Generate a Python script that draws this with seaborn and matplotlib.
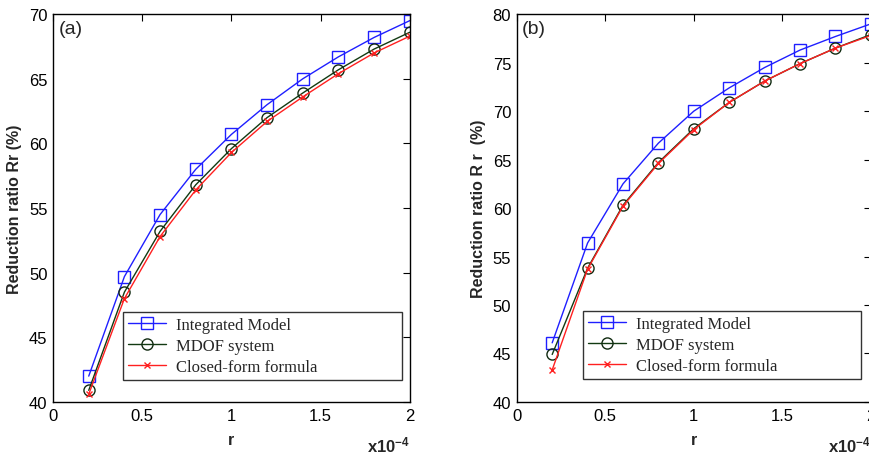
import matplotlib
matplotlib.use("Agg")
import matplotlib.pyplot as plt
import seaborn as sns
import pandas as pd

# r values in units of 1e-4
r_vals = [0.2, 0.4, 0.6, 0.8, 1.0, 1.2, 1.4, 1.6, 1.8, 2.0]

# Panel (a)
a_integrated = [42.0, 49.7, 54.5, 58.0, 60.7, 63.0, 65.0, 66.7, 68.2, 69.5]
a_mdof = [40.9, 48.5, 53.2, 56.8, 59.6, 62.0, 63.9, 65.7, 67.3, 68.6]
a_closed = [40.6, 48.0, 52.8, 56.4, 59.3, 61.7, 63.6, 65.4, 67.0, 68.3]

# Panel (b)
b_integrated = [46.1, 56.4, 62.5, 66.7, 70.0, 72.4, 74.5, 76.3, 77.7, 79.0]
b_mdof = [44.9, 53.8, 60.3, 64.7, 68.2, 70.9, 73.1, 74.9, 76.5, 77.9]
b_closed = [43.3, 53.7, 60.2, 64.6, 68.1, 70.9, 73.1, 74.9, 76.5, 77.8]

series_names = ["Integrated Model", "MDOF system", "Closed-form formula"]
x_ticks = [0, 0.5, 1, 1.5, 2]
x_tick_labels = ["0", "0.5", "1", "1.5", "2"]
a_yticks = [40, 45, 50, 55, 60, 65, 70]
b_yticks = [40, 45, 50, 55, 60, 65, 70, 75, 80]

sns.set_theme(style="white")
plt.rcParams["font.family"] = ["Liberation Sans", "DejaVu Sans"]

fig = plt.figure(figsize=(8.7, 4.6), dpi=100)
ax_a = fig.add_axes([0.061, 0.124, 0.410, 0.843])
ax_b = fig.add_axes([0.594, 0.124, 0.407, 0.843])

styles = [
    dict(color="#1f1fff", marker="s", markersize=8, markeredgewidth=1.0,
         markerfacecolor="none", markeredgecolor="#1f1fff", linewidth=1.0),
    dict(color="#123a12", marker="o", markersize=8, markeredgewidth=1.0,
         markerfacecolor="none", markeredgecolor="#102a10", linewidth=1.0),
    dict(color="#ff2020", marker="x", markersize=4, markeredgewidth=1.0,
         markeredgecolor="#ff2020", linewidth=1.0),
]


def draw_panel(ax, series, yticks, ylim, tag, ylabel, legend_box):
    for name, vals, st in zip(series_names, series, styles):
        df = pd.DataFrame({"r": r_vals, "Rr": vals})
        sns.lineplot(data=df, x="r", y="Rr", ax=ax, label=name, **st)
    ax.set_xlim(0, 2)
    ax.set_ylim(*ylim)
    ax.set_xticks(x_ticks)
    ax.set_xticklabels(x_tick_labels)
    ax.set_yticks(yticks)
    ax.tick_params(direction="in", length=5, width=0.8, top=True, right=True,
                   labelsize=12, pad=4, colors="black")
    for sp in ax.spines.values():
        sp.set_color("black")
        sp.set_linewidth(1.0)
    ax.set_xlabel("r", fontsize=11.5, fontweight="bold", labelpad=7)
    ax.set_ylabel(ylabel, fontsize=11.5, fontweight="bold", labelpad=5)
    ax.text(0.015, 0.985, tag, transform=ax.transAxes, fontsize=14,
            va="top", ha="left")
    ax.text(1.0, -0.128, r"x$\mathregular{10^{-4}}$", transform=ax.transAxes,
            fontsize=12, fontweight="bold", ha="right", va="baseline")
    leg = ax.legend(loc="lower left", bbox_to_anchor=legend_box,
                    mode="expand",
                    prop={"family": "Liberation Serif", "size": 12},
                    frameon=True, fancybox=False, borderpad=0.3,
                    labelspacing=0.3, handlelength=2.3, handletextpad=0.6,
                    borderaxespad=0)
    leg.get_frame().set_edgecolor("black")
    leg.get_frame().set_linewidth(1.0)


draw_panel(ax_a, [a_integrated, a_mdof, a_closed], a_yticks, (40, 70), "(a)",
           "Reduction ratio Rr (%)", (0.196, 0.057, 0.782, 0.167))
draw_panel(ax_b, [b_integrated, b_mdof, b_closed], b_yticks, (40, 80), "(b)",
           "Reduction ratio R r  (%)", (0.186, 0.059, 0.786, 0.170))

fig.savefig("out.png", dpi=100)
